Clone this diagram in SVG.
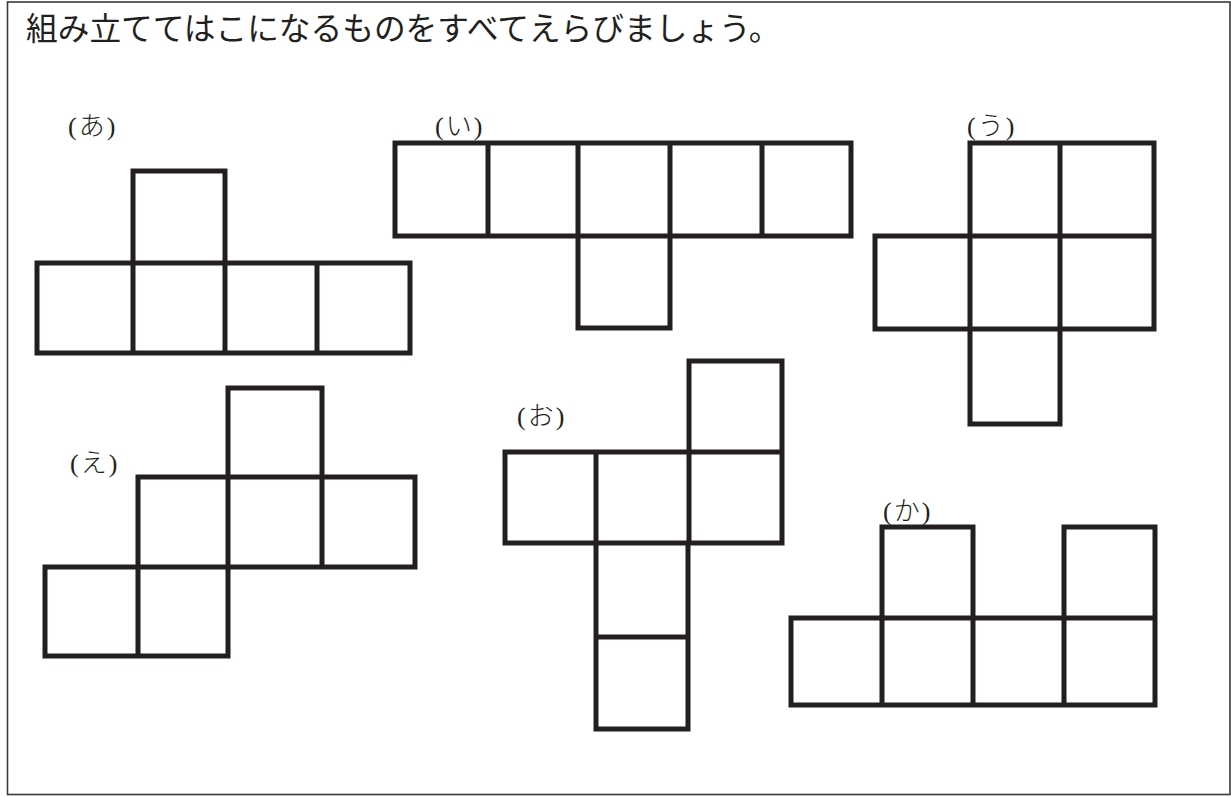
<svg xmlns="http://www.w3.org/2000/svg" width="1231" height="797" viewBox="0 0 1231 797">
<style>
.net path{fill:none;stroke:#231f20;stroke-width:5;stroke-linecap:square;stroke-linejoin:miter}
.lbl{font-family:"Liberation Serif","Noto Sans CJK JP",serif;font-size:26px;font-weight:300;fill:#231f20;letter-spacing:2px}
.title{font-family:"Noto Sans CJK JP","Noto Sans",sans-serif;font-size:31.7px;fill:#231f20}
</style>
<rect x="7.5" y="2" width="1222.5" height="792.5" fill="#ffffff" stroke="#3a3a3a" stroke-width="1.6"/>
<text class="title" x="26" y="40">組み立ててはこになるものをすべてえらびましょう。</text>
<g id="net-a" class="net">
<text class="lbl" x="68" y="135">(あ)</text>
<path d="M37,263H410V353H37Z M133,263V353 M225,263V353 M317,263V353 M133,263V171H225V263"/>
</g>
<g id="net-i" class="net">
<text class="lbl" x="435" y="135">(い)</text>
<path d="M395,143H851V236H395Z M488,143V236 M578,143V236 M670,143V236 M762,143V236 M578,236V328H670V236"/>
</g>
<g id="net-u" class="net">
<text class="lbl" x="967" y="135">(う)</text>
<path d="M970,143H1154V329H875V236H970Z M1060,143V329 M970,236H1154 M970,236V329 M970,329V424H1060V329"/>
</g>
<g id="net-e" class="net">
<text class="lbl" x="70" y="472">(え)</text>
<path d="M138,477H415V567H138Z M228,477V567 M322,477V567 M228,477V388H322V477 M45,567H228V656H45Z M138,567V656"/>
</g>
<g id="net-o" class="net">
<text class="lbl" x="517" y="425">(お)</text>
<path d="M505,452H782V543H505Z M596,452V543 M689,452V543 M689,452V361H782V452 M596,543V729H688V543 M596,637H688"/>
</g>
<g id="net-ka" class="net">
<text class="lbl" x="883" y="520">(か)</text>
<path d="M791,618H1155V705H791Z M882,618V705 M973,618V705 M1064,618V705 M882,618V527H973V618 M1064,618V527H1155V618"/>
</g>
</svg>
